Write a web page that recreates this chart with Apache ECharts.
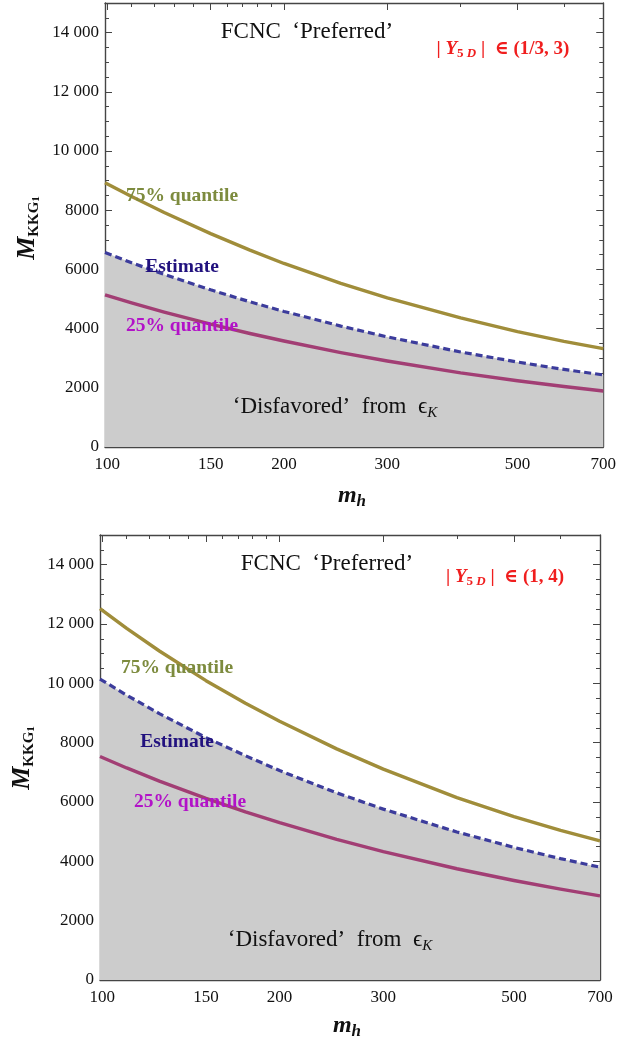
<!DOCTYPE html>
<html><head><meta charset="utf-8">
<script src="https://cdn.jsdelivr.net/npm/echarts@6/dist/echarts.min.js"></script>
<style>html,body{margin:0;padding:0;background:#fff}#c{width:619px;height:1043px}</style>
</head><body><div id="c"></div>
<script>
// ---- data ----
const mh = [99.1, 110, 125, 150, 175, 200, 250, 300, 400, 500, 600, 700];
// panel A : |Y5D| in (1/3, 3)
const q75A = [8930, 8460, 7920, 7210, 6650, 6200, 5530, 5040, 4360, 3900, 3570, 3325];
const estA = [6570, 6225, 5830, 5310, 4905, 4580, 4085, 3720, 3210, 2870, 2620, 2435];
const q25A = [5140, 4870, 4560, 4150, 3835, 3580, 3190, 2905, 2505, 2240, 2045, 1894];
// panel B : |Y5D| in (1, 4)
const q75B = [12520, 11850, 11090, 10090, 9330, 8720, 7790, 7110, 6150, 5510, 5040, 4690];
const estB = [10145, 9600, 8980, 8170, 7560, 7060, 6310, 5760, 4990, 4470, 4090, 3802];
const q25B = [7535, 7148, 6705, 6121, 5667, 5302, 4742, 4329, 3749, 3353, 3061, 2834];
// axes
const xRange = [99.1, 700];
const yRange = [0, 15000];
const xMajor = [100, 150, 200, 300, 500, 700];
const xMinor = [110, 120, 130, 140, 160, 170, 180, 190, 400, 600];
const yMajor = [0, 2000, 4000, 6000, 8000, 10000, 12000, 14000];
const yMinor = [500, 1000, 1500, 2500, 3000, 3500, 4500, 5000, 5500, 6500, 7000, 7500, 8500, 9000, 9500, 10500, 11000, 11500, 12500, 13000, 13500, 14500];
const panelNames = ['(1/3, 3)', '(1, 4)'];

// ---- styling ----
const SERIF = '"Liberation Serif", "DejaVu Serif", serif';
const FRAME = '#454545';
const C75 = '#a08d3a', C75T = '#7d8b3e';
const CEST = '#3c3c9c', CESTT = '#21117e';
const C25 = '#a23e74', C25T = '#b212c8';
const X = v => Math.log10(v);

const grids = [
  {left: 105, top: 3, width: 499, height: 444},
  {left: 100, top: 535, width: 500, height: 445}
];

function fmtY(v) {
  v = Math.round(v);
  const s = String(v);
  return v >= 10000 ? s.slice(0, -3) + ' ' + s.slice(-3) : s;
}

const xAxis = [], yAxis = [];
grids.forEach((g, gi) => {
  const cx = {gridIndex: gi, type: 'value', min: X(xRange[0]), max: X(xRange[1]), splitLine: {show: false}};
  const cy = {gridIndex: gi, type: 'value', min: yRange[0], max: yRange[1], splitLine: {show: false}};
  const line = {show: true, onZero: false, lineStyle: {color: FRAME, width: 1.4}};
  const noLine = {show: false, onZero: false};
  const tk = (vals, len) => ({show: true, inside: true, length: len, customValues: vals, lineStyle: {color: FRAME, width: 1}});
  const lbl = {fontFamily: SERIF, fontSize: 17, color: '#111'};
  xAxis.push(
    Object.assign({}, cx, {position: 'bottom', axisLine: line, axisTick: tk(xMajor.map(X), 7),
      axisLabel: Object.assign({show: true, customValues: xMajor.map(X), margin: 9,
        formatter: v => String(Math.round(Math.pow(10, v)))}, lbl)}),
    Object.assign({}, cx, {position: 'bottom', axisLine: noLine, axisTick: tk(xMinor.map(X), 4), axisLabel: {show: false}}),
    Object.assign({}, cx, {position: 'top', axisLine: line, axisTick: tk(xMajor.map(X), 7), axisLabel: {show: false}}),
    Object.assign({}, cx, {position: 'top', axisLine: noLine, axisTick: tk(xMinor.map(X), 4), axisLabel: {show: false}})
  );
  yAxis.push(
    Object.assign({}, cy, {position: 'left', axisLine: line, axisTick: tk(yMajor, 7),
      axisLabel: Object.assign({show: true, customValues: yMajor, margin: 6, formatter: fmtY}, lbl)}),
    Object.assign({}, cy, {position: 'left', axisLine: noLine, axisTick: tk(yMinor, 4), axisLabel: {show: false}}),
    Object.assign({}, cy, {position: 'right', axisLine: line, axisTick: tk(yMajor, 7), axisLabel: {show: false}}),
    Object.assign({}, cy, {position: 'right', axisLine: noLine, axisTick: tk(yMinor, 4), axisLabel: {show: false}})
  );
});

function mk(gi, vals, color, dashed, area) {
  const s = {
    type: 'line', xAxisIndex: 4 * gi, yAxisIndex: 4 * gi,
    data: mh.map((m, i) => [X(m), vals[i]]),
    symbol: 'none', smooth: false, silent: true,
    lineStyle: {color: color, width: dashed ? 3.2 : 3.4, type: dashed ? [7, 4] : 'solid', join: 'round'}
  };
  if (area) s.areaStyle = {color: '#cccccc', opacity: 1};
  return s;
}
const series = [
  mk(0, estA, CEST, true, true), mk(0, q25A, C25), mk(0, q75A, C75),
  mk(1, estB, CEST, true, true), mk(1, q25B, C25), mk(1, q75B, C75)
];

// ---- text annotations ----
function txt(x, y, text, size, color, weight, extra) {
  return Object.assign({type: 'text', x: x, y: y, z: 100, style: {
    text: text, fill: color, fontFamily: SERIF, fontSize: size, fontWeight: weight || 'normal',
    textAlign: 'center', textVerticalAlign: 'middle', align: 'center', verticalAlign: 'middle'}}, extra || {});
}
function richTxt(x, y, text, rich, extra) {
  return Object.assign({type: 'text', x: x, y: y, z: 100, style: {
    text: text, rich: rich, textAlign: 'center', textVerticalAlign: 'middle', align: 'center', verticalAlign: 'middle'}}, extra || {});
}
const redRich = {
  r: {fontFamily: SERIF, fontSize: 19, fontWeight: 'bold', fill: '#f01e1e', lineHeight: 23},
  i: {fontFamily: SERIF, fontSize: 19, fontWeight: 'bold', fontStyle: 'italic', fill: '#f01e1e', lineHeight: 23},
  s: {fontFamily: SERIF, fontSize: 13, fontWeight: 'bold', fill: '#f01e1e', lineHeight: 15, verticalAlign: 'bottom'},
  si: {fontFamily: SERIF, fontSize: 13, fontWeight: 'bold', fontStyle: 'italic', fill: '#f01e1e', lineHeight: 15, verticalAlign: 'bottom'}
};
const disRich = {
  n: {fontFamily: SERIF, fontSize: 23, fill: '#111', lineHeight: 28},
  s: {fontFamily: SERIF, fontSize: 15, fontStyle: 'italic', fill: '#111', lineHeight: 17, verticalAlign: 'bottom'}
};
const mhRich = {
  m: {fontFamily: SERIF, fontSize: 24, fontWeight: 'bold', fontStyle: 'italic', fill: '#111', lineHeight: 28},
  h: {fontFamily: SERIF, fontSize: 17, fontWeight: 'bold', fontStyle: 'italic', fill: '#111', lineHeight: 16, verticalAlign: 'bottom'}
};
const myRich = {
  M: {fontFamily: SERIF, fontSize: 26, fontWeight: 'bold', fontStyle: 'italic', fill: '#111', lineHeight: 30},
  k: {fontFamily: SERIF, fontSize: 15, fontWeight: 'bold', fill: '#111', lineHeight: 22, verticalAlign: 'bottom'},
  o: {fontFamily: SERIF, fontSize: 11, fontWeight: 'bold', fill: '#111', lineHeight: 12, verticalAlign: 'bottom'}
};
const pos = [
  {fc: [307, 32], red: [503, 49], q75: [182, 195.5], est: [182, 266.5], q25: [182, 325.5], dis: [335, 407], mh: [352, 496], my: [27, 228]},
  {fc: [327, 564], red: [505, 577], q75: [177, 667.5], est: [177, 741.5], q25: [190, 801.5], dis: [330, 940], mh: [347, 1026], my: [22, 758]}
];
const graphic = [];
pos.forEach((p, gi) => {
  graphic.push(
    txt(p.fc[0], p.fc[1], 'FCNC  \u2018Preferred\u2019', 23, '#111'),
    richTxt(p.red[0], p.red[1], '{r|| }{i|Y}{s|5 }{si|D}{r| |  \u2208 ' + panelNames[gi] + '}', redRich),
    txt(p.q75[0], p.q75[1], '75% quantile', 19.5, C75T, 'bold'),
    txt(p.est[0], p.est[1], 'Estimate', 19.5, CESTT, 'bold'),
    txt(p.q25[0], p.q25[1], '25% quantile', 19.5, C25T, 'bold'),
    richTxt(p.dis[0], p.dis[1], '{n|\u2018Disfavored\u2019  from  \u03f5}{s|K}', disRich),
    richTxt(p.mh[0], p.mh[1], '{m|m}{h|h}', mhRich),
    richTxt(p.my[0], p.my[1], '{M|M}{k|KKG}{o|1}', myRich, {rotation: Math.PI / 2})
  );
});

const chart = echarts.init(document.getElementById('c'), null, {renderer: 'canvas'});
chart.setOption({
  animation: false,
  backgroundColor: '#fff',
  grid: grids,
  xAxis: xAxis,
  yAxis: yAxis,
  series: series,
  graphic: graphic
});
</script>
</body></html>
